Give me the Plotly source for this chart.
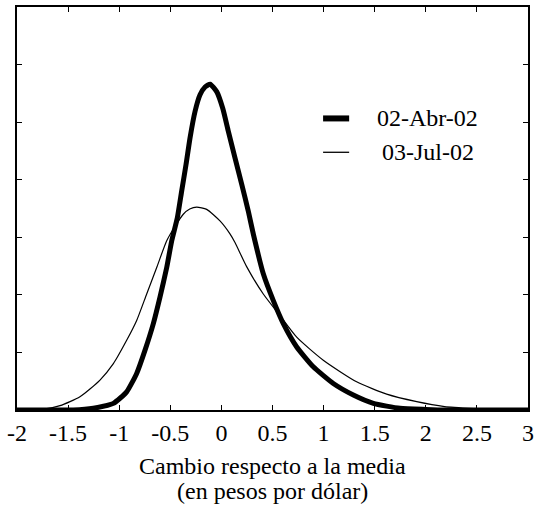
import plotly.graph_objects as go

# Densidad del cambio respecto a la media (pesos por dólar)
x_abr = [-2.0, -1.6, -1.45, -1.253, -1.057, -0.927, -0.829, -0.748, -0.666, -0.601, -0.535,
         -0.486, -0.431, -0.389, -0.346, -0.307, -0.258, -0.209, -0.16, -0.11, -0.046, 0.013,
         0.068, 0.133, 0.199, 0.263, 0.313, 0.41, 0.508, 0.606, 0.737, 0.899, 1.095, 1.291,
         1.487, 1.748, 2.0, 2.2, 3.0]
y_abr = [0.0, 0.0, 0.0, 0.006, 0.023, 0.063, 0.127, 0.207, 0.300, 0.392, 0.495,
         0.588, 0.668, 0.760, 0.853, 0.945, 1.037, 1.095, 1.122, 1.132, 1.106, 1.048,
         0.968, 0.876, 0.784, 0.691, 0.610, 0.473, 0.380, 0.300, 0.219, 0.150, 0.092, 0.052,
         0.023, 0.006, 0.002, 0.0, 0.0]

x_jul = [-2.0, -1.75, -1.579, -1.384, -1.188, -1.057, -0.927, -0.829, -0.731, -0.633, -0.535,
         -0.45, -0.373, -0.31, -0.242, -0.144, -0.014, 0.084, 0.133, 0.247, 0.41, 0.573, 0.737,
         0.997, 1.323, 1.617, 1.911, 2.184, 2.5, 2.7, 3.0]
y_jul = [0.0, 0.002, 0.015, 0.046, 0.104, 0.161, 0.242, 0.311, 0.403, 0.495, 0.588,
         0.64, 0.680, 0.698, 0.705, 0.697, 0.657, 0.612, 0.582, 0.498, 0.403, 0.328, 0.253,
         0.173, 0.098, 0.055, 0.029, 0.012, 0.004, 0.0, 0.0]

series_names = ["02-Abr-02", "03-Jul-02"]
x_title_lines = ["Cambio respecto a la media", "(en pesos por dólar)"]

x_ticks = [-2, -1.5, -1, -0.5, 0, 0.5, 1, 1.5, 2, 2.5, 3]
x_tick_text = ["-2", "-1.5", "-1", "-0.5", "0", "0.5", "1", "1.5", "2", "2.5", "3"]
y_ticks = [0, 0.2, 0.4, 0.6, 0.8, 1.0, 1.2, 1.4]

FONT = "Liberation Serif"

fig = go.Figure()
fig.add_trace(go.Scatter(x=x_jul, y=y_jul, mode="lines", name=series_names[1],
                         line=dict(color="black", width=1.2, shape="spline", smoothing=0.6),
                         showlegend=False))
fig.add_trace(go.Scatter(x=x_abr, y=y_abr, mode="lines", name=series_names[0],
                         line=dict(color="black", width=5, shape="spline", smoothing=0.5),
                         showlegend=False))

axis_common = dict(showgrid=False, zeroline=False, showline=True, mirror="allticks",
                   linecolor="black", linewidth=2, ticks="inside", ticklen=5,
                   tickcolor="black", tickwidth=1)

fig.update_xaxes(range=[-2, 3], tickvals=x_ticks, ticktext=x_tick_text,
                 tickfont=dict(family=FONT, size=24, color="black"), **axis_common)
fig.update_yaxes(range=[0, 1.4], tickvals=y_ticks, showticklabels=False, **axis_common)

# Axis title, two tightly spaced lines centred under the plot
for yy, line in zip([-0.138, -0.200], x_title_lines):
    fig.add_annotation(xref="paper", yref="paper", x=0.5, y=yy, text=line, showarrow=False,
                       xanchor="center", yanchor="middle",
                       font=dict(family=FONT, size=24, color="black"))

# Legend keys (paper coordinates span the plot area)
legend_rows = [(0.7235, 6), (0.6395, 1.3)]
for (yy, w), name in zip(legend_rows, series_names):
    fig.add_shape(type="line", xref="paper", yref="paper",
                  x0=0.599, x1=0.650, y0=yy, y1=yy,
                  line=dict(color="black", width=w))
    fig.add_annotation(xref="paper", yref="paper", x=0.804, y=yy, text=name,
                       showarrow=False, xanchor="center", yanchor="middle",
                       font=dict(family=FONT, size=24, color="black"))

fig.update_layout(width=545, height=508, margin=dict(l=17, r=17, t=5, b=98),
                  paper_bgcolor="white", plot_bgcolor="white",
                  font=dict(family=FONT, size=24, color="black"))

fig.write_html("out.html")
